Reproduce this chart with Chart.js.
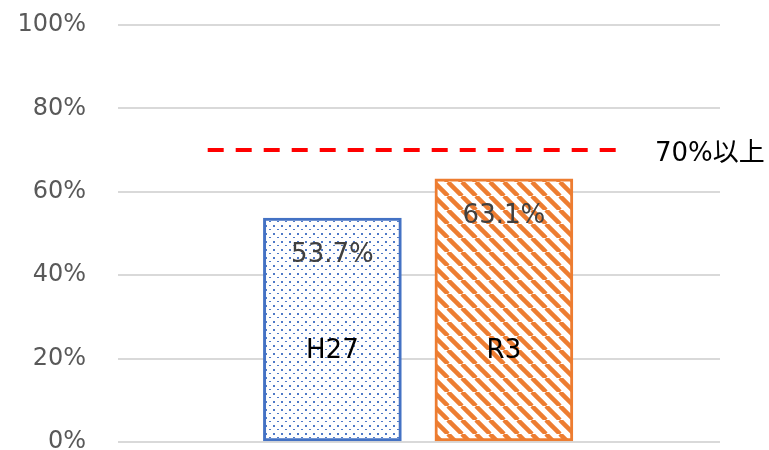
<!DOCTYPE html>
<html><head><meta charset="utf-8">
<script src="https://cdn.jsdelivr.net/npm/chart.js@4"></script>
<style>html,body{margin:0;padding:0;background:#fff}#wrap{width:769px;height:450px;position:relative}</style>
</head><body><div id="wrap"><canvas id="c"></canvas></div>
<script>
// ---- data ----
const categories = ['H27', 'R3'];
const values = [53.7, 63.1];
const targetValue = 70;
const targetLabel = '70%以上';
const yTickValues = [0, 20, 40, 60, 80, 100];

// ---- styles ----
const FONT = "'DejaVu Sans', 'Noto Sans CJK JP', sans-serif";
const BLUE = '#4472C4', ORANGE = '#ED7D31';

function dotPattern() {
  const c = document.createElement('canvas'); c.width = 8; c.height = 8;
  const g = c.getContext('2d');
  g.fillStyle = '#fff'; g.fillRect(0, 0, 8, 8);
  g.fillStyle = 'rgba(68,114,196,0.95)';
  g.fillRect(1, 1, 2, 2); g.fillRect(5, 5, 2, 1);
  return g.createPattern(c, 'repeat');
}
function stripePattern() {
  const s = 14;
  const c = document.createElement('canvas'); c.width = s; c.height = s;
  const g = c.getContext('2d');
  g.fillStyle = '#fff'; g.fillRect(0, 0, s, s);
  g.strokeStyle = ORANGE; g.lineWidth = 4.5;
  for (const o of [-s, 0, s]) {
    g.beginPath(); g.moveTo(o, 0); g.lineTo(o + s, s); g.stroke();
  }
  return g.createPattern(c, 'repeat');
}
const fills = [dotPattern(), stripePattern()];
const borders = [BLUE, ORANGE];

const lineExtent = [1 - 0.727, categories.length + 0.652];

const labelPlugin = {
  id: 'labels',
  afterDatasetsDraw(chart) {
    const ctx = chart.ctx;
    const meta = chart.getDatasetMeta(0);
    const ys = chart.scales.y;
    ctx.save();
    ctx.textAlign = 'center'; ctx.textBaseline = 'middle';
    meta.data.forEach((bar, i) => {
      ctx.font = '26px ' + FONT;
      ctx.fillStyle = '#404040';
      ctx.fillText(values[i].toFixed(1) + '%', bar.x, bar.y + 37);
      ctx.fillStyle = '#000';
      ctx.fillText(categories[i], bar.x, ys.getPixelForValue(0) - 91);
    });
    ctx.textAlign = 'left';
    ctx.font = '26px ' + FONT;
    ctx.fillStyle = '#000';
    ctx.fillText(targetLabel, 655, ys.getPixelForValue(targetValue) + 4);
    ctx.restore();
  }
};

new Chart(document.getElementById('c'), {
  data: {
    datasets: [
      {
        type: 'bar',
        data: categories.map((c, i) => ({ x: i + 1, y: values[i] })),
        backgroundColor: fills,
        borderColor: borders,
        borderWidth: 3,
        borderSkipped: false,
        barThickness: 138,
        order: 2
      },
      {
        type: 'line',
        data: lineExtent.map(x => ({ x, y: targetValue })),
        borderColor: '#FF0000',
        borderWidth: 4,
        borderDash: [16, 12],
        pointRadius: 0,
        fill: false,
        order: 1
      }
    ]
  },
  options: {
    responsive: true,
    maintainAspectRatio: false,
    animation: false,
    layout: { padding: { top: 25, bottom: 8, left: 0, right: 49 } },
    plugins: { legend: { display: false }, tooltip: { enabled: false } },
    scales: {
      x: { type: 'linear', display: false, offset: false, min: -0.25, max: 3.26, grid: { offset: false } },
      y: {
        min: 0, max: 100,
        afterBuildTicks(s) { s.ticks = yTickValues.map(v => ({ value: v })); },
        afterFit(s) { s.width = 118; s.paddingTop = 0; s.paddingBottom = 0; },
        ticks: {
          callback: v => v + '%',
          color: '#595959',
          font: { family: FONT, size: 24 },
          padding: 32
        },
        grid: { color: '#d9d9d9', lineWidth: 2, drawTicks: false },
        border: { display: false }
      }
    }
  },
  plugins: [labelPlugin]
});
</script>
</body></html>
